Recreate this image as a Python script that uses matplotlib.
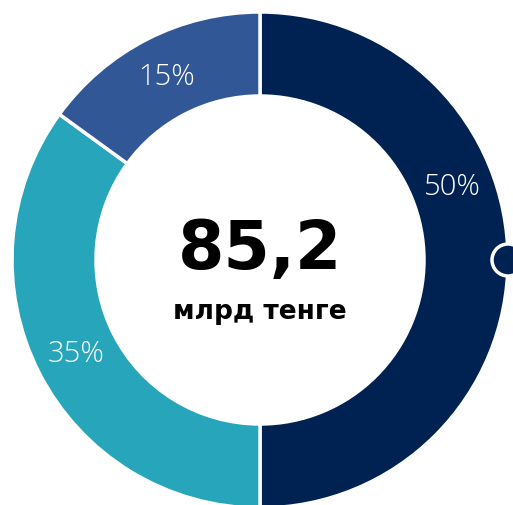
import matplotlib
matplotlib.use("Agg")
import matplotlib.pyplot as plt
import numpy as np
from matplotlib.patches import Circle

shares = [50, 35, 15]
labels = ["50%", "35%", "15%"]
colors = ["#002253", "#27a6bb", "#325796"]
label_shift_deg = [21, 0, 0]
total_value = "85,2"
unit = "млрд тенге"

W, H = 513, 506
fig = plt.figure(figsize=(W / 100, H / 100), dpi=100)
ax = fig.add_axes([0, 0, 1, 1])

cx, cy = 260, H - 261
R, r = 248, 164

wedges, _ = ax.pie(shares, colors=colors, startangle=90, counterclock=False,
                   radius=R, center=(cx, cy), frame=True,
                   wedgeprops=dict(width=R - r, edgecolor="white", linewidth=2.5))
ax.set_xlim(0, W)
ax.set_ylim(0, H)
ax.set_aspect("equal")
ax.axis("off")

rm = (R + r) / 2
for w, lab, sh in zip(wedges, labels, label_shift_deg):
    ang = np.deg2rad((w.theta1 + w.theta2) / 2 + sh)
    ax.text(cx + rm * np.cos(ang), cy + rm * np.sin(ang), lab, color="white",
            fontsize=21, fontfamily="Open Sans", fontweight="light",
            ha="center", va="center", zorder=10)

ax.add_patch(Circle((cx + R, cy), 16, facecolor=colors[0], edgecolor="white",
                    linewidth=2.5, zorder=5, clip_on=False))

ax.text(cx, cy + 11, total_value, fontsize=48, fontweight="bold",
        fontfamily="DejaVu Sans", ha="center", va="center", color="black")
ax.text(cx, cy - 51, unit, fontsize=19, fontweight="bold",
        fontfamily="DejaVu Sans", ha="center", va="center", color="black")

fig.savefig("out.png", dpi=100)
